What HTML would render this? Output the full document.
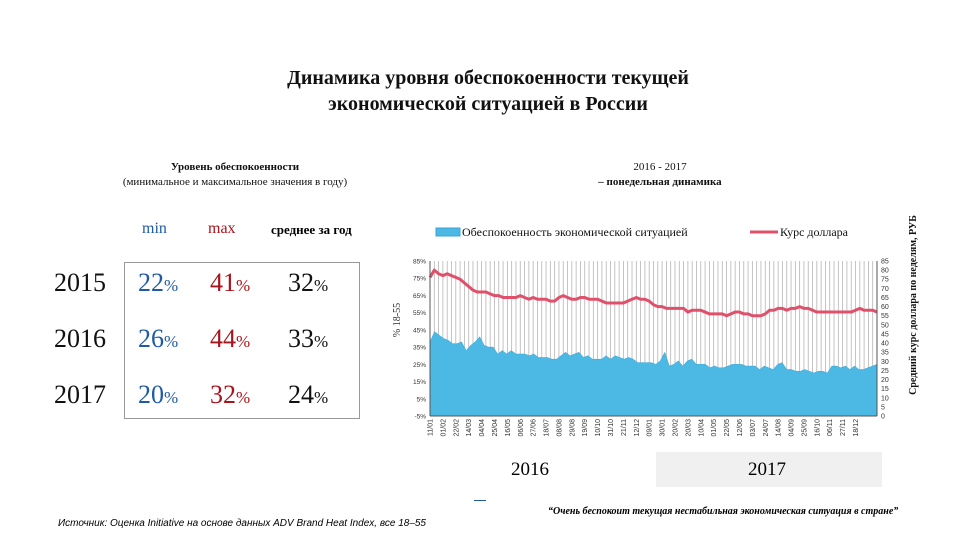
<!DOCTYPE html>
<html><head><meta charset="utf-8">
<style>
body{margin:0;width:960px;height:540px;background:#fff;position:relative;overflow:hidden;font-family:"Liberation Serif","Noto Serif CJK SC",serif;}
.abs{position:absolute;}
.title{left:0;width:976px;top:65px;text-align:center;font-weight:bold;font-size:20px;line-height:26px;color:#111;}
.sub{font-size:11px;text-align:center;line-height:15px;color:#111;}
.pct{font-size:17px;}
.blue{color:#1f5aa6}.red{color:#a8141c}
</style></head><body>
<div class="abs title">Динамика уровня обеспокоенности текущей<br>экономической ситуацией в России</div>

<div class="abs sub" style="left:60px;width:350px;top:160px;"><b>Уровень обеспокоенности</b><br>(минимальное и максимальное значения в году)</div>
<div class="abs blue" style="left:142px;top:220px;font-size:16px;">min</div>
<div class="abs red" style="left:208px;top:220px;font-size:16px;">max</div>
<div class="abs" style="left:271px;top:222px;font-size:13px;font-weight:bold;">среднее за год</div>
<div class="abs" style="left:124px;top:262px;width:234px;height:155px;border:1px solid #999;"></div>
<div id="tbl"></div>

<div class="abs sub" style="left:560px;width:200px;top:160px;">2016 - 2017<br><b>– понедельная динамика</b></div>

<svg class="abs" style="left:0;top:0" width="960" height="540" id="chart"></svg>

<div class="abs" style="left:656px;top:452px;width:226px;height:35px;background:#f0f0f0;"></div>
<div class="abs" style="left:511px;top:459px;font-size:19px;">2016</div>
<div class="abs" style="left:748px;top:459px;font-size:19px;">2017</div>
<div class="abs" style="left:474px;top:500px;width:12px;height:1px;background:#1f5aa6;"></div>
<div class="abs" style="left:548px;top:506px;font-size:10px;font-style:italic;font-weight:bold;">“Очень беспокоит текущая нестабильная экономическая ситуация в стране”</div>
<div class="abs" style="left:58px;top:518px;font-size:10px;font-style:italic;font-family:'Liberation Sans',sans-serif;">Источник: Оценка Initiative на основе данных ADV Brand Heat Index, все 18–55</div>

<script>
const years=["2015","2016","2017"];
const minVals=[22,26,20];
const maxVals=[41,44,32];
const avgVals=[32,33,24];
const tbl=document.getElementById('tbl');
years.forEach((y,i)=>{
  const top=268+i*56;
  const cells=[[y,54,'#111','year-label',false],[minVals[i],138,'#1f5aa6','min-value',true],[maxVals[i],210,'#a8141c','max-value',true],[avgVals[i],288,'#111','avg-value',true]];
  cells.forEach(c=>{
    const d=document.createElement('div');
    d.className='abs';d.style.left=c[1]+'px';d.style.top=top+'px';d.style.color=c[2];d.style.fontSize='26px';
    d.innerHTML=c[4]?c[0]+'<span class="pct">%</span>':c[0];
    
    
    tbl.appendChild(d);
  });
});

const concern=[38,44,42,40,39,37,37,38,33,36,38,41,36,35,35,31,33,31,33,31,31,31,30,31,29,29,29,28,28,30,32,30,31,32,29,30,28,28,28,30,28,30,29,28,29,28,26,26,26,26,25,27,32,24,25,27,24,27,28,25,25,25,23,24,23,23,24,25,25,25,24,24,24,22,24,23,22,25,26,22,22,21,21,22,21,20,21,21,20,24,24,23,24,22,24,22,22,23,24,25];
const usd=[76,80,78,77,78,77,76,75,73,71,69,68,68,68,67,66,66,65,65,65,65,66,65,64,65,64,64,64,63,63,65,66,65,64,64,65,65,64,64,64,63,62,62,62,62,62,63,64,65,64,64,63,61,60,60,59,59,59,59,59,57,58,58,58,57,56,56,56,56,55,56,57,57,56,56,55,55,55,56,58,58,59,59,58,59,59,60,59,59,58,57,57,57,57,57,57,57,57,57,58,59,58,58,58,57];
const xLabels=["11/01","01/02","22/02","14/03","04/04","25/04","16/05","06/06","27/06","18/07","08/08","29/08","19/09","10/10","31/10","21/11","12/12","09/01","30/01","20/02","20/03","10/04","01/05","22/05","12/06","03/07","24/07","14/08","04/09","25/09","16/10","06/11","27/11","18/12"];
const leftTicks=[-5,5,15,25,35,45,55,65,75,85];
const rightTicks=[0,5,10,15,20,25,30,35,40,45,50,55,60,65,70,75,80,85];

const NS='http://www.w3.org/2000/svg';
const svg=document.getElementById('chart');
const X0=430,X1=877,Y0=416,Y1=261;
const yL=v=>Y0-(v+5)/90*(Y0-Y1);
const yR=v=>Y0-v/85*(Y0-Y1);
const n=Math.max(concern.length,usd.length);
const xs=i=>X0+i*(X1-X0)/(n-1);
function el(t,a,p){const e=document.createElementNS(NS,t);for(const k in a)e.setAttribute(k,a[k]);(p||svg).appendChild(e);return e;}

const g=el('g',{});


for(let i=0;i<n;i++){el('line',{x1:xs(i),x2:xs(i),y1:Y1,y2:Y0,stroke:'#b5b5b5','stroke-width':0.8},g);}

let d='M'+xs(0)+','+Y0;
concern.forEach((v,i)=>{d+=' L'+xs(i*(n-1)/(concern.length-1))+','+yL(v);});
d+=' L'+X1+','+Y0+' Z';
const area=el('path',{d:d,fill:'#4cb8e4',stroke:'#3aa5d6','stroke-width':0.5});



let pts=usd.map((v,i)=>xs(i*(n-1)/(usd.length-1))+','+yR(v)).join(' ');
const line=el('polyline',{points:pts,fill:'none',stroke:'#e0506b','stroke-width':3,'stroke-linejoin':'round'});



el('line',{x1:X0,x2:X0,y1:Y1,y2:Y0,stroke:'#555','stroke-width':1});
el('line',{x1:X1,x2:X1,y1:Y1,y2:Y0,stroke:'#555','stroke-width':1});
el('line',{x1:X0,x2:X1,y1:Y0,y2:Y0,stroke:'#555','stroke-width':1});
leftTicks.forEach(v=>{
  const t=el('text',{x:X0-4,y:yL(v)+2.5,'font-size':6.5,'text-anchor':'end','font-family':'Liberation Sans, sans-serif',fill:'#333'});
  t.textContent=v+'%';
  
  
});
rightTicks.forEach(v=>{
  const t=el('text',{x:X1+4,y:yR(v)+2.5,'font-size':7,'font-family':'Liberation Sans, sans-serif',fill:'#333'});
  t.textContent=v;
  
  
});
xLabels.forEach((l,i)=>{
  const x=xs(i*3);
  const t=el('text',{x:0,y:0,'font-size':7,'text-anchor':'end','font-family':'Liberation Sans, sans-serif',fill:'#333',transform:'translate('+(x+2.5)+','+(Y0+3)+') rotate(-90)'});
  t.textContent=l;
  
  
});
const yt=el('text',{x:0,y:0,'font-size':10,'text-anchor':'middle',fill:'#333',transform:'translate(400,320) rotate(-90)'});
yt.textContent='% 18-55';


const yt2=el('text',{x:0,y:0,'font-size':10,'font-weight':'bold','text-anchor':'middle',fill:'#111',transform:'translate(916,305) rotate(-90)'});
yt2.textContent='Средний курс доллара по неделям, РУБ';



const lg=el('g',{});


el('rect',{x:436,y:228,width:24,height:8,fill:'#4cb8e4',stroke:'#3aa5d6'},lg);
const l1=el('text',{x:462,y:236,'font-size':12,fill:'#111'},lg);l1.textContent='Обеспокоенность экономической ситуацией';
el('line',{x1:750,x2:778,y1:232,y2:232,stroke:'#e0506b','stroke-width':3},lg);
const l2=el('text',{x:780,y:236,'font-size':12,fill:'#111'},lg);l2.textContent='Курс доллара';
</script>
</body></html>
